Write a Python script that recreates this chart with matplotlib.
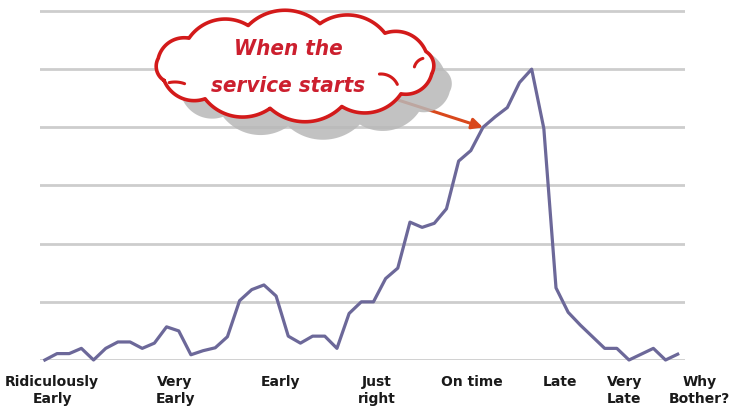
import numpy as np
import matplotlib
matplotlib.use("Agg")
import matplotlib.pyplot as plt
from matplotlib.patches import Polygon

# ---- data ----
values = [0.0, 0.11, 0.11, 0.2, 0.0, 0.2, 0.31, 0.31, 0.2, 0.29, 0.57, 0.5, 0.09,
          0.16, 0.21, 0.4, 1.02, 1.21, 1.29, 1.1, 0.41, 0.29, 0.41, 0.41, 0.2, 0.8,
          1.0, 1.0, 1.4, 1.58, 2.37, 2.28, 2.35, 2.6, 3.42, 3.6, 4.0, 4.18, 4.34,
          4.77, 5.0, 3.98, 1.24, 0.82, 0.6, 0.4, 0.2, 0.2, 0.0, 0.1, 0.2, 0.0, 0.1]
category_labels = ["Ridiculously\nEarly", "Very\nEarly", "Early", "Just\nright",
                   "On time", "Late", "Very\nLate", "Why\nBother?"]
label_positions = [0.6, 10.7, 19.4, 27.3, 35.1, 42.3, 47.6, 53.8]
callout_text = ["When the", "service starts"]
arrow_index = 36

W, H = 729, 415
fig = plt.figure(figsize=(W / 100, H / 100), dpi=100)
fig.patch.set_facecolor("white")

# main axes: x data -0.4..52.6 -> px 40..685, y 0 at px 360, 58.17 px/unit
px_unit = 58.17
ax = fig.add_axes([40 / W, (H - 360) / H, 645 / W, 360 / H])
ax.set_xlim(-0.4, 52.6)
ax.set_ylim(0, 360 / px_unit)
for s in ax.spines.values():
    s.set_visible(False)
ax.set_yticks(range(7))
ax.set_xticks([])
ax.tick_params(axis="y", length=0, labelleft=False)
ax.yaxis.grid(True, color="#cdcdcd", lw=2)
ax.set_axisbelow(True)
ax.set_facecolor("none")

x = np.arange(len(values))
ax.plot(x, values, color="#6c6899", lw=2.3, clip_on=False, zorder=3,
        solid_joinstyle="round")

trans = ax.get_xaxis_transform()
for lab, pos in zip(category_labels, label_positions):
    ax.text(pos, -0.042, lab, transform=trans, ha="center", va="top",
            fontsize=10, fontweight="bold", color="#1a1a1a",
            linespacing=1.25, clip_on=False, family=["DejaVu Sans"])

# arrow from cloud to line
ax.annotate("", xy=(x[arrow_index], values[arrow_index]), xycoords="data",
            xytext=(398, H - 100), textcoords="figure pixels",
            arrowprops=dict(arrowstyle="-|>", color="#d9481c", lw=2.2,
                            mutation_scale=16, shrinkA=0, shrinkB=0),
            zorder=4)

# overlay axes in pixel coordinates for the callout cloud
ov = fig.add_axes([0, 0, 1, 1], zorder=5)
ov.set_xlim(0, W)
ov.set_ylim(H, 0)
ov.axis("off")
ov.set_facecolor("none")


def cloud_outline(cx, cy, a, b, n, h, phase=0.0):
    t = np.linspace(0, 2 * np.pi, n, endpoint=False) + phase
    pts = np.column_stack([cx + a * np.cos(t), cy + b * np.sin(t)])
    out = []
    for i in range(n):
        p0 = pts[i]
        p1 = pts[(i + 1) % n]
        d = p1 - p0
        c = np.hypot(*d)
        m = (p0 + p1) / 2
        nrm = np.array([d[1], -d[0]]) / c
        if np.dot(nrm, m - np.array([cx, cy])) < 0:
            nrm = -nrm
        hh = h * c
        r = (c * c / 4 + hh * hh) / (2 * hh)
        C = m - nrm * (r - hh)
        a0 = np.arctan2(*(p0 - C)[::-1])
        a1 = np.arctan2(*(p1 - C)[::-1])
        dl = (a1 - a0 + np.pi) % (2 * np.pi) - np.pi
        tt = np.linspace(0, 1, 30)
        ang = a0 + dl * tt
        out.append(np.column_stack([C[0] + r * np.cos(ang), C[1] + r * np.sin(ang)]))
    return np.vstack(out)


def arc(cx, cy, r, a0, a1, **kw):
    ang = np.radians(np.linspace(a0, a1, 30))
    ov.plot(cx + r * np.cos(ang), cy + r * np.sin(ang), **kw)


shape = cloud_outline(295, 66, 139, 43, 12, 0.2, phase=0.18)
shadow = shape + np.array([18, 18])
ov.add_patch(Polygon(shadow, closed=True, facecolor="#b8b8b8", edgecolor="none",
                     alpha=0.85, zorder=1))
ov.add_patch(Polygon(shape, closed=True, facecolor="white", edgecolor="#d31a1a",
                     lw=2.6, joinstyle="round", zorder=2))
# small inner curls
curl = dict(color="#d31a1a", lw=2.2, zorder=3, solid_capstyle="round")
arc(175, 110, 28, -102, -70, **curl)
arc(426, 70, 12, 195, 255, **curl)
arc(381, 92, 18, -95, -25, **curl)

for txt, yb in zip(callout_text, [55, 92]):
    ov.text(288, yb, txt, ha="center", va="baseline", fontsize=16,
            style="italic", fontweight="bold", fontstretch="condensed",
            color="#cc1f2e", zorder=4, family=["DejaVu Sans"])

fig.savefig("out.png", dpi=100, facecolor="white")
